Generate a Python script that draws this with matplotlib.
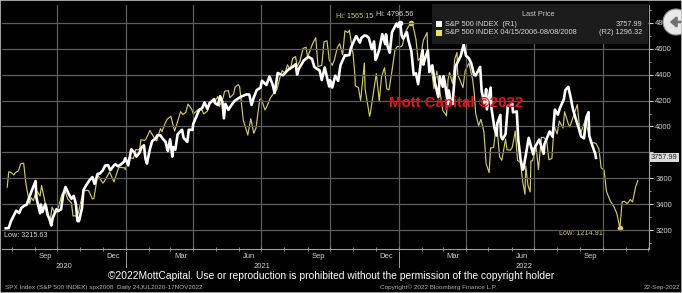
import matplotlib
matplotlib.use("Agg")
import matplotlib.pyplot as plt
import matplotlib.dates as mdates
import matplotlib.transforms as mtrans
from matplotlib.patches import Rectangle, Circle, FancyArrowPatch
import pandas as pd

plt.rcParams['font.family'] = ['Liberation Sans Narrow', 'Liberation Sans', 'DejaVu Sans']

# ---------------- data ----------------
spx_dates = [
    "2020-07-24","2020-07-28","2020-07-31","2020-08-05","2020-08-07","2020-08-11","2020-08-14","2020-08-18",
    "2020-08-21","2020-08-26","2020-08-28","2020-09-02","2020-09-03","2020-09-04","2020-09-08","2020-09-09",
    "2020-09-11","2020-09-15","2020-09-18","2020-09-21","2020-09-23","2020-09-25","2020-09-30","2020-10-02",
    "2020-10-06","2020-10-09","2020-10-12","2020-10-16","2020-10-20","2020-10-23","2020-10-26","2020-10-28",
    "2020-10-30","2020-11-03","2020-11-05","2020-11-09","2020-11-13","2020-11-17","2020-11-20","2020-11-24",
    "2020-11-27","2020-12-01","2020-12-04","2020-12-08","2020-12-11","2020-12-16","2020-12-18","2020-12-21",
    "2020-12-24","2020-12-29","2020-12-31","2021-01-04","2021-01-08","2021-01-12","2021-01-15","2021-01-19",
    "2021-01-22","2021-01-25","2021-01-27","2021-01-29","2021-02-02","2021-02-05","2021-02-10","2021-02-12",
    "2021-02-16","2021-02-19","2021-02-23","2021-02-25","2021-02-26","2021-03-01","2021-03-04","2021-03-05",
    "2021-03-08","2021-03-11","2021-03-17","2021-03-19","2021-03-24","2021-03-26","2021-03-31","2021-04-01",
    "2021-04-09","2021-04-13","2021-04-16","2021-04-20","2021-04-23","2021-04-29","2021-04-30","2021-05-04",
    "2021-05-07","2021-05-10","2021-05-12","2021-05-14","2021-05-18","2021-05-21","2021-05-26","2021-05-28",
    "2021-06-04","2021-06-11","2021-06-15","2021-06-18","2021-06-21","2021-06-25","2021-06-30","2021-07-02",
    "2021-07-08","2021-07-12","2021-07-16","2021-07-19","2021-07-23","2021-07-27","2021-07-30","2021-08-06",
    "2021-08-12","2021-08-16","2021-08-18","2021-08-20","2021-08-27","2021-09-02","2021-09-07","2021-09-10",
    "2021-09-14","2021-09-17","2021-09-20","2021-09-24","2021-09-28","2021-09-30","2021-10-01","2021-10-04",
    "2021-10-08","2021-10-12","2021-10-15","2021-10-21","2021-10-22","2021-10-27","2021-10-29","2021-11-05",
    "2021-11-10","2021-11-12","2021-11-16","2021-11-19","2021-11-22","2021-11-26","2021-11-29","2021-12-01",
    "2021-12-03","2021-12-06","2021-12-10","2021-12-14","2021-12-15","2021-12-17","2021-12-20","2021-12-23",
    "2021-12-29","2021-12-31","2022-01-03","2022-01-05","2022-01-07","2022-01-12","2022-01-14","2022-01-18",
    "2022-01-21","2022-01-24","2022-01-27","2022-01-31","2022-02-02","2022-02-03","2022-02-04","2022-02-09",
    "2022-02-11","2022-02-15","2022-02-18","2022-02-23","2022-02-25","2022-03-01","2022-03-02","2022-03-04",
    "2022-03-08","2022-03-09","2022-03-11","2022-03-14","2022-03-18","2022-03-25","2022-03-29","2022-04-01",
    "2022-04-05","2022-04-08","2022-04-12","2022-04-14","2022-04-20","2022-04-22","2022-04-26","2022-04-28",
    "2022-04-29","2022-05-04","2022-05-05","2022-05-09","2022-05-12","2022-05-13","2022-05-17","2022-05-18",
    "2022-05-20","2022-05-24","2022-05-27","2022-06-02","2022-06-03","2022-06-08","2022-06-10","2022-06-13",
    "2022-06-16","2022-06-17","2022-06-24","2022-06-30","2022-07-01","2022-07-08","2022-07-14","2022-07-15",
    "2022-07-22","2022-07-26","2022-07-29","2022-08-02","2022-08-05","2022-08-10","2022-08-12","2022-08-16",
    "2022-08-19","2022-08-22","2022-08-26","2022-08-30","2022-09-02","2022-09-06","2022-09-09","2022-09-12",
    "2022-09-13","2022-09-16","2022-09-21","2022-09-22",
]
spx_values = [
    3215.63,3218,3271,3327,3351,3333,3373,3390,
    3397,3478,3508,3580,3455,3427,3331,3399,
    3341,3401,3319,3281,3237,3298,3363,3348,
    3361,3477,3534,3483,3443,3465,3401,3271,
    3270,3369,3510,3550,3585,3610,3557,3635,
    3638,3662,3699,3702,3663,3701,3709,3694,
    3703,3727,3756,3700,3824,3801,3768,3798,
    3841,3855,3751,3714,3826,3887,3910,3934,
    3932,3907,3881,3829,3811,3901,3768,3842,
    3821,3939,3975,3913,3881,3975,3973,4020,
    4129,4142,4185,4135,4180,4211,4181,4165,
    4233,4189,4063,4174,4128,4156,4195,4204,
    4230,4247,4246,4166,4224,4281,4298,4352,
    4320,4385,4327,4258,4412,4401,4395,4437,
    4460,4479,4400,4442,4509,4537,4520,4459,
    4443,4433,4358,4455,4353,4308,4357,4300,
    4391,4351,4471,4549,4545,4551,4605,4697,
    4646,4682,4701,4698,4682,4595,4655,4513,
    4538,4592,4712,4634,4710,4621,4568,4726,
    4793,4766,4796.56,4700,4677,4726,4663,4577,
    4398,4410,4326,4516,4589,4477,4501,4587,
    4419,4471,4349,4226,4385,4306,4387,4329,
    4171,4278,4204,4173,4463,4543,4632,4546,
    4525,4488,4397,4393,4459,4272,4175,4288,
    4132,4300,4147,3991,3930,4024,4089,3923,
    3901,3941,4158,4177,4109,4116,3901,3750,
    3667,3675,3912,3785,3825,3899,3790,3863,
    3962,3921,4130,4091,4145,4210,4280,4305,
    4228,4138,4058,3986,3924,3909,4067,4110,
    3932,3873,3790,3757.99,
]

hist_dates = [
    "2006-04-17","2006-04-19","2006-04-21","2006-04-26","2006-04-28","2006-05-02","2006-05-05","2006-05-09",
    "2006-05-12","2006-05-17","2006-05-19","2006-05-22","2006-05-26","2006-05-31","2006-06-02","2006-06-07",
    "2006-06-09","2006-06-13","2006-06-16","2006-06-20","2006-06-23","2006-06-29","2006-07-03","2006-07-07",
    "2006-07-12","2006-07-14","2006-07-18","2006-07-21","2006-07-26","2006-07-28","2006-08-02","2006-08-04",
    "2006-08-09","2006-08-11","2006-08-16","2006-08-18","2006-08-23","2006-08-25","2006-09-01","2006-09-07",
    "2006-09-08","2006-09-13","2006-09-15","2006-09-21","2006-09-22","2006-09-27","2006-10-03","2006-10-06",
    "2006-10-11","2006-10-13","2006-10-18","2006-10-20","2006-10-25","2006-10-27","2006-11-01","2006-11-03",
    "2006-11-08","2006-11-10","2006-11-14","2006-11-17","2006-11-22","2006-11-27","2006-12-01","2006-12-05",
    "2006-12-08","2006-12-12","2006-12-15","2006-12-20","2006-12-22","2006-12-29","2007-01-03","2007-01-05",
    "2007-01-10","2007-01-12","2007-01-17","2007-01-19","2007-01-24","2007-01-26","2007-01-31","2007-02-02",
    "2007-02-07","2007-02-09","2007-02-14","2007-02-16","2007-02-20","2007-02-22","2007-02-27","2007-03-02",
    "2007-03-05","2007-03-09","2007-03-13","2007-03-16","2007-03-21","2007-03-23","2007-03-28","2007-03-30",
    "2007-04-04","2007-04-10","2007-04-13","2007-04-17","2007-04-20","2007-04-24","2007-04-27","2007-05-01",
    "2007-05-04","2007-05-08","2007-05-10","2007-05-14","2007-05-18","2007-05-22","2007-05-24","2007-05-31",
    "2007-06-04","2007-06-07","2007-06-12","2007-06-15","2007-06-19","2007-06-22","2007-06-26","2007-06-29",
    "2007-07-03","2007-07-06","2007-07-10","2007-07-13","2007-07-17","2007-07-19","2007-07-24","2007-07-26",
    "2007-07-27","2007-07-31","2007-08-03","2007-08-08","2007-08-09","2007-08-15","2007-08-16","2007-08-20",
    "2007-08-24","2007-08-28","2007-08-31","2007-09-04","2007-09-07","2007-09-10","2007-09-14","2007-09-18",
    "2007-09-21","2007-09-26","2007-09-28","2007-10-01","2007-10-05","2007-10-09","2007-10-12","2007-10-16",
    "2007-10-19","2007-10-22","2007-10-26","2007-10-31","2007-11-01","2007-11-07","2007-11-09","2007-11-13",
    "2007-11-16","2007-11-21","2007-11-26","2007-11-28","2007-11-30","2007-12-04","2007-12-07","2007-12-10",
    "2007-12-11","2007-12-14","2007-12-18","2007-12-21","2007-12-26","2007-12-31","2008-01-02","2008-01-04",
    "2008-01-08","2008-01-11","2008-01-15","2008-01-18","2008-01-22","2008-01-24","2008-01-28","2008-02-01",
    "2008-02-05","2008-02-08","2008-02-13","2008-02-15","2008-02-19","2008-02-22","2008-02-26","2008-02-29",
    "2008-03-04","2008-03-07","2008-03-10","2008-03-11","2008-03-14","2008-03-17","2008-03-18","2008-03-20",
    "2008-03-25","2008-03-28","2008-04-01","2008-04-04","2008-04-08","2008-04-11","2008-04-15","2008-04-18",
    "2008-04-22","2008-04-25","2008-04-30","2008-05-02","2008-05-07","2008-05-09","2008-05-13","2008-05-19",
    "2008-05-23","2008-05-27","2008-05-30","2008-06-03","2008-06-06","2008-06-09","2008-06-13","2008-06-17",
    "2008-06-20","2008-06-24","2008-06-27","2008-07-02","2008-07-07","2008-07-11","2008-07-15","2008-07-18",
    "2008-07-21","2008-07-25","2008-07-29","2008-08-01","2008-08-05","2008-08-08",
]
hist_values = [
    1285,1311,1311,1306,1310,1313,1325,1326,
    1291,1256,1267,1262,1280,1270,1288,1257,
    1252,1223,1251,1240,1244,1272,1280,1265,
    1258,1236,1236,1240,1268,1278,1280,1279,
    1265,1266,1305,1302,1292,1295,1311,1294,
    1299,1318,1319,1318,1315,1336,1334,1349,
    1349,1366,1365,1368,1382,1377,1367,1364,
    1385,1380,1393,1401,1406,1381,1397,1414,
    1409,1413,1427,1418,1410,1418,1416,1410,
    1415,1430,1431,1430,1440,1423,1438,1449,
    1450,1438,1444,1456,1460,1457,1399,1387,
    1374,1402,1377,1386,1435,1436,1417,1421,
    1437,1448,1452,1472,1484,1480,1494,1486,
    1505,1508,1491,1501,1522,1524,1507,1531,
    1540,1491,1493,1533,1535,1502,1493,1503,
    1524,1530,1511,1552,1549,1553,1511,1482,
    1458,1455,1433,1497,1453,1406,1411,1445,
    1479,1432,1474,1489,1453,1451,1484,1519,
    1525,1525,1527,1547,1557,1565.15,1561,1538,
    1501,1506,1536,1549,1508,1475,1453,1483,
    1458,1416,1407,1469,1481,1462,1504,1515,
    1477,1468,1455,1484,1497,1468,1447,1411,
    1390,1401,1380,1325,1310,1352,1353,1395,
    1337,1331,1367,1349,1348,1353,1381,1331,
    1327,1294,1273,1321,1288,1277,1330,1330,
    1352,1315,1370,1370,1365,1332,1334,1390,
    1376,1398,1386,1414,1393,1388,1403,1426,
    1375,1390,1400,1378,1361,1361,1360,1350,
    1318,1314,1278,1262,1252,1240,1214.91,1260,
    1261,1257,1264,1260,1285,1296.32,
]

right_ticks = [3200, 3400, 3600, 3800, 4000, 4200, 4400, 4600, 4800]
right_tick_labels = ["3200", "3400", "3600", "", "4000", "4200", "4400", "4600", "4800"]
month_labels = ["Sep", "Dec", "Mar", "Jun", "Sep", "Dec", "Mar", "Jun", "Sep"]
year_labels = ["2020", "2021", "2022"]

chart_start = pd.Timestamp("2020-07-24")
hist_start = pd.Timestamp("2006-04-15")

# ---------------- figure ----------------
W, H = 682, 293
fig = plt.figure(figsize=(W / 100, H / 100), dpi=100, facecolor="black")

def px(x, y):
    return x / W, 1 - y / H

ax = fig.add_axes([2 / W, 44 / H, 647 / W, 244 / H])
ax2 = ax.twinx()
ax.set_zorder(ax2.get_zorder() + 1)
ax.patch.set_visible(False)
ax2.patch.set_facecolor("black")

xs = pd.to_datetime(spx_dates)
hx = pd.to_datetime(hist_dates) + (chart_start - hist_start)

ylo, yhi = 3056, 4936
ax.set_ylim(ylo, yhi)
smin, smax = min(spx_values), max(spx_values)
hmin, hmax = min(hist_values), max(hist_values)
k = (hmax - hmin) / (smax - smin)
ax2.set_ylim(hmin + (ylo - smin) * k, hmin + (yhi - smin) * k)

xlo, xhi = pd.Timestamp("2020-07-19"), pd.Timestamp("2022-12-02")
ax.set_xlim(xlo, xhi)

grid_c = "#5e5e5e"
yel = "#d2c96a"
# lines
ax2.plot(hx, hist_values, color=yel, lw=0.85, zorder=2)
ax.plot(xs, spx_values, color="white", lw=1.9, zorder=3, solid_joinstyle="round")

# grid
ax.set_yticks(right_ticks)
ax.set_yticklabels(right_tick_labels)
ax.yaxis.grid(True, color=grid_c, lw=0.9)
for q in pd.date_range("2020-10-01", "2022-10-01", freq="QS"):
    ax.axvline(q, color=grid_c, lw=0.9, zorder=1)

# y axis on right
ax.yaxis.tick_right()
ax.yaxis.set_minor_locator(matplotlib.ticker.MultipleLocator(100))
ax.tick_params(axis="y", which="major", colors="#d0d0d0", labelsize=5.5, length=3, width=0.8, pad=1.5)
ax.tick_params(axis="y", which="minor", colors="#b0b0b0", length=1.5, width=0.6)
ax2.set_yticks([])
for s in ["top", "left"]:
    ax.spines[s].set_visible(False)
    ax2.spines[s].set_visible(False)
ax2.spines["right"].set_visible(False)
ax2.spines["bottom"].set_visible(False)
ax.spines["right"].set_color("#a0a0a0")
ax.spines["bottom"].set_color("#a0a0a0")

# x axis
mid_months = [d + pd.Timedelta(days=14) for d in pd.date_range("2020-09-01", periods=len(month_labels), freq="3MS")]
ax.set_xticks(mid_months)
ax.set_xticklabels(month_labels)
ax.tick_params(axis="x", which="major", length=0, colors="#d0d0d0", labelsize=5.5, pad=3)
ax.xaxis.set_minor_locator(mdates.MonthLocator())
ax.tick_params(axis="x", which="minor", length=3, width=0.6, direction="inout", colors="#a0a0a0")

tr = mtrans.blended_transform_factory(ax.transData, ax.transAxes)
year_starts = [pd.Timestamp("2021-01-01"), pd.Timestamp("2022-01-01")]
bounds = [xlo] + year_starts + [xhi]
for i, lab in enumerate(year_labels):
    c = bounds[i] + (bounds[i + 1] - bounds[i]) / 2
    ax.text(c, -0.07, lab, transform=tr, ha="center", va="center", color="#d0d0d0", fontsize=5.5)
for ys in year_starts:
    ax.plot([ys, ys], [-0.012, -0.075], transform=tr, color="#a0a0a0", lw=0.7, clip_on=False)

# markers & hi/low labels
i_hi = spx_values.index(smax)
i_lo = spx_values.index(smin)
j_hi = hist_values.index(hmax)
j_lo = hist_values.index(hmin)
ax.plot([xs[i_hi]], [smax], "o", color="white", ms=3, zorder=4)
ax2.plot([hx[j_hi]], [hmax], "o", color=yel, ms=3, zorder=4)
ax2.plot([hx[j_lo]], [hmin], "o", color=yel, ms=3, zorder=4)
ax.annotate(f"Hi: {smax:.2f}", (xs[i_hi], smax), xytext=(-4, 4), textcoords="offset points",
            ha="center", va="bottom", color="#d8d8d8", fontsize=5.2, zorder=5)
ax2.annotate(f"Hi: {hmax:.2f}", (hx[j_hi], hmax), xytext=(-27, 2.5), textcoords="offset points",
             ha="right", va="bottom", color=yel, fontsize=5.2)
ax.annotate(f"Low: {smin:.2f}", (xs[i_lo], smin), xytext=(-1, -3), textcoords="offset points",
            ha="left", va="top", color="#d8d8d8", fontsize=5.2)
ax2.annotate(f"Low: {hmin:.2f}", (hx[j_lo], hmin), xytext=(-12, -1.5), textcoords="offset points",
             ha="right", va="top", color=yel, fontsize=5.2)

# last price box on the axis
ax.text(1.003, spx_values[-1], f"{spx_values[-1]:.2f}", transform=mtrans.blended_transform_factory(ax.transAxes, ax.transData),
        ha="left", va="center", fontsize=5.3, color="#202020", zorder=6, clip_on=False,
        bbox=dict(boxstyle="square,pad=0.15", fc="#dadada", ec="none"))

# legend box
fig.patches.append(Rectangle(px(432, 44), 216 / W, 40 / H, transform=fig.transFigure, fc="#1c1c1c", ec="none", zorder=4))
fig.text(*px(538, 14), "Last Price", ha="center", va="center", color="#c8c8c8", fontsize=5.3, zorder=5)
fig.patches.append(Rectangle(px(436, 27), 6 / W, 6 / H, transform=fig.transFigure, fc="white", ec="none", zorder=5))
fig.patches.append(Rectangle(px(436, 36), 6 / W, 6 / H, transform=fig.transFigure, fc="#e8e060", ec="none", zorder=5))
fig.text(*px(445, 24), "S&P 500 INDEX  (R1)", ha="left", va="center", color="#d8d8d8", fontsize=5.3, zorder=5)
fig.text(*px(642, 24), f"{spx_values[-1]:.2f}", ha="right", va="center", color="#d8d8d8", fontsize=5.3, zorder=5)
fig.text(*px(445, 33), "S&P 500 INDEX 04/15/2006-08/08/2008", ha="left", va="center", color="#d8d8d8", fontsize=5.3, zorder=5)
fig.text(*px(642, 33), f"(R2) {hist_values[-1]:.2f}", ha="right", va="center", color="#d8d8d8", fontsize=5.3, zorder=5)

# watermark
fig.text(*px(456, 103), "Mott Capital ©2022", ha="center", va="center", color="#e0141e",
         fontsize=10.8, fontweight="bold", zorder=6)

# bottom texts
fig.text(*px(331, 276), "©2022MottCapital. Use or reproduction is prohibited without the permission of the copyright holder",
         ha="center", va="center", color="white", fontsize=7.4)
fig.text(*px(5, 287), "SPX Index (S&P 500 INDEX) spx2008  Daily 24JUL2020-17NOV2022", ha="left", va="center",
         color="#b0b0b0", fontsize=4.6)
fig.text(*px(438, 287), "Copyright© 2022 Bloomberg Finance L.P.", ha="center", va="center", color="#b0b0b0", fontsize=4.6)
fig.text(*px(680, 287), "22-Sep-2022", ha="right", va="center", color="#b0b0b0", fontsize=4.6)

# round icon top right
fig.patches.append(Circle((6.76, (H - 22) / 100), 0.13, transform=fig.dpi_scale_trans, fc="#e8e8e8", ec="#909090", lw=0.8, zorder=6))
fig.patches.append(FancyArrowPatch((6.84, (H - 22) / 100), (6.67, (H - 22) / 100), transform=fig.dpi_scale_trans,
                                   arrowstyle="-|>,head_length=0.35,head_width=0.3", mutation_scale=10, lw=1.8,
                                   color="#707070", zorder=7))

# thin frame
fig.patches.append(Rectangle((0, 0), 1, 1, transform=fig.transFigure, fill=False, ec="#bdbdbd", lw=1.2, zorder=10))

fig.savefig("out.png", dpi=100, facecolor="black")
